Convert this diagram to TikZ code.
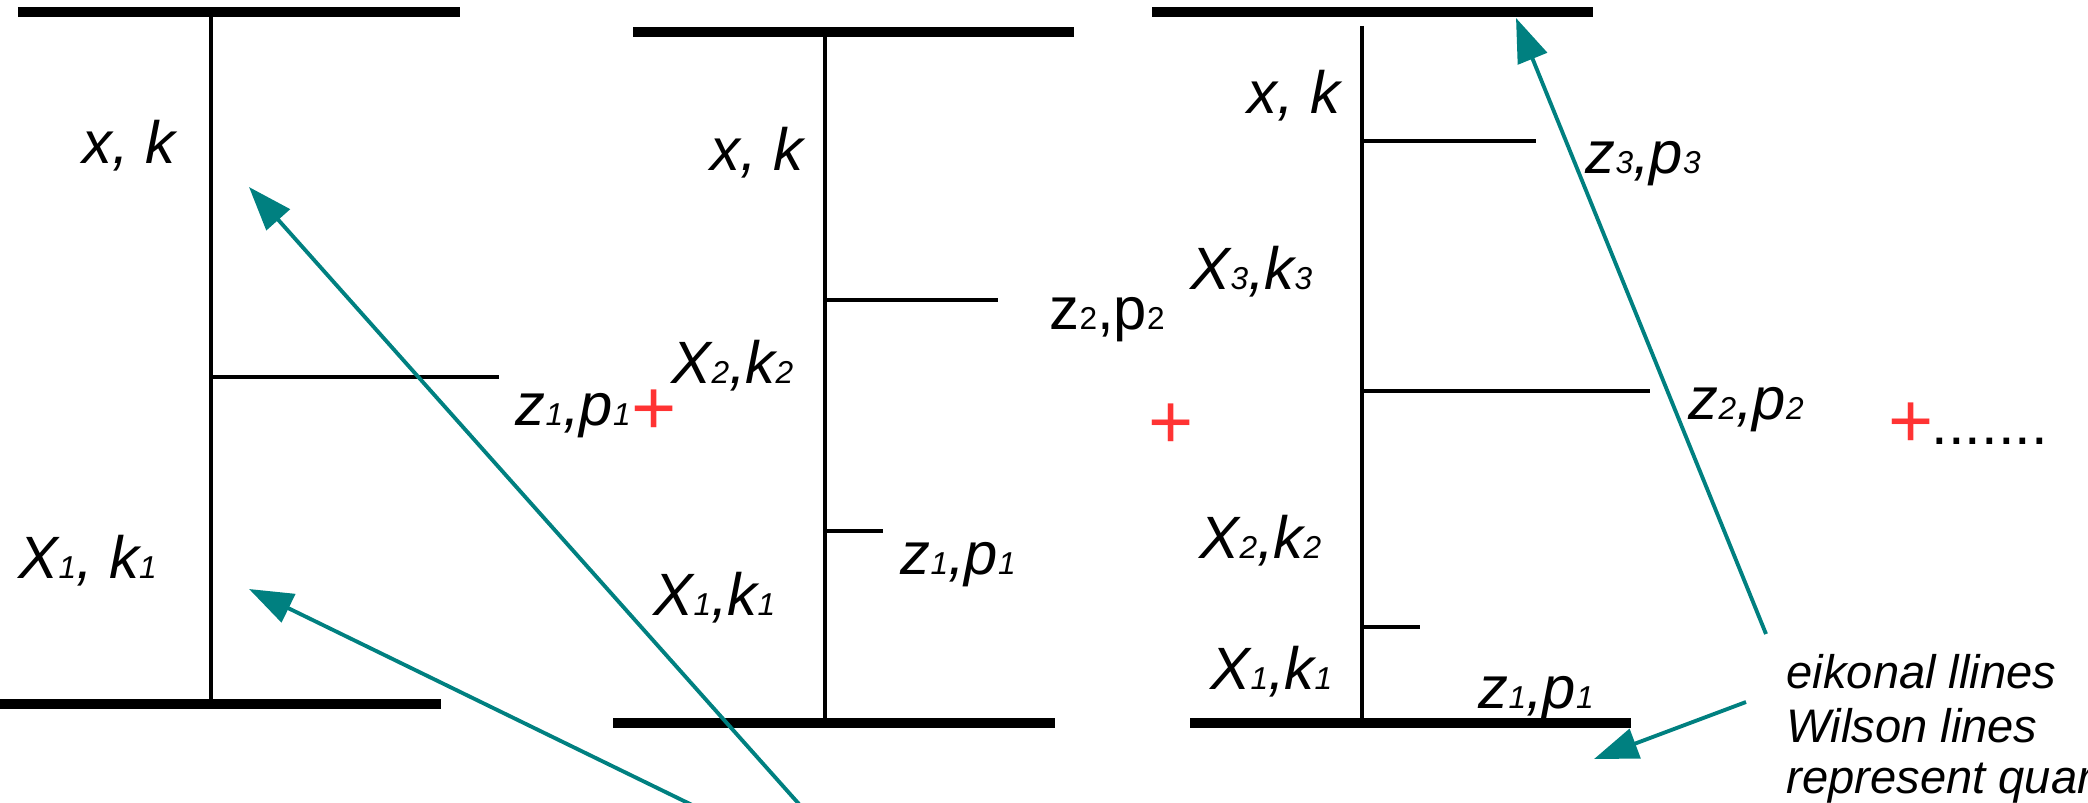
\documentclass[tikz,border=0pt]{standalone}
\usepackage{fontspec}
\setmainfont{Liberation Sans}
\usetikzlibrary{arrows.meta}
\definecolor{eikteal}{RGB}{0,128,128}
\definecolor{plusred}{RGB}{255,51,51}
\newcommand{\lo}[1]{{\fontsize{9}{10}\selectfont #1}}

\begin{document}
\begin{tikzpicture}[>={Triangle[length=4.4mm,width=3.1mm]},
    wall/.style={line width=3pt},
    rung/.style={line width=1.1pt},
    lbl/.style={anchor=base west,inner sep=0pt,font=\fontsize{17}{20}\selectfont\itshape},
    redplus/.style={inner sep=0pt,text=plusred,font=\fontsize{22}{24}\selectfont},
    eik/.style={->,eikteal,line width=1.1pt},
    note/.style={anchor=base west,inner sep=0pt,font=\fontsize{13.4}{15}\selectfont\itshape}]
    \useasboundingbox (0,0) rectangle (20.88,8.02);
    \clip (0,0) rectangle (20.88,8.02);
    % first ladder
    \draw[wall] (0.18,7.90)--(4.60,7.90);
    \draw[wall] (-0.05,0.98)--(4.41,0.98);
    \draw[rung] (2.11,7.90)--(2.11,0.98);
    \draw[rung] (2.11,4.25)--(4.99,4.25);
    \node[lbl] (xk1) at (0.82,6.38) {x, k};
    \node[lbl] (Xa1) at (0.18,2.24) {X\lo{1}, k\lo{1}};
    \node[lbl] (za1) at (5.15,3.77) {z\lo{1},p\lo{1}};
    \node[redplus] (plus1) at (6.54,3.90) {+};
    % second ladder
    \draw[wall] (6.33,7.70)--(10.74,7.70);
    \draw[wall] (6.13,0.79)--(10.55,0.79);
    \draw[rung] (8.25,7.70)--(8.25,0.79);
    \draw[rung] (8.25,5.02)--(9.98,5.02);
    \draw[rung] (8.25,2.71)--(8.83,2.71);
    \node[lbl] (xk2) at (7.10,6.31) {x, k};
    \node[lbl] (Xb2) at (6.71,4.19) {X\lo{2},k\lo{2}};
    \node[lbl] (Xb1) at (6.53,1.87) {X\lo{1},k\lo{1}};
    \node[lbl,font=\fontsize{17}{20}\selectfont] (zb2) at (10.49,4.73) {z\lo{2},p\lo{2}};
    \node[lbl] (zb1) at (9.00,2.28) {z\lo{1},p\lo{1}};
    \node[redplus] (plus2) at (11.71,3.76) {+};
    % third ladder
    \draw[wall] (11.52,7.90)--(15.93,7.90);
    \draw[wall] (11.90,0.79)--(16.31,0.79);
    \draw[rung] (13.62,7.76)--(13.62,0.79);
    \draw[rung] (13.62,6.61)--(15.36,6.61);
    \draw[rung] (13.62,4.11)--(16.50,4.11);
    \draw[rung] (13.62,1.75)--(14.20,1.75);
    \node[lbl] (xk3) at (12.47,6.88) {x, k};
    \node[lbl] (Xc3) at (11.90,5.13) {X\lo{3},k\lo{3}};
    \node[lbl] (Xc2) at (11.99,2.44) {X\lo{2},k\lo{2}};
    \node[lbl] (Xc1) at (12.10,1.13) {X\lo{1},k\lo{1}};
    \node[lbl] (zc3) at (15.85,6.28) {z\lo{3},p\lo{3}};
    \node[lbl] (zc2) at (16.88,3.83) {z\lo{2},p\lo{2}};
    \node[lbl] (zc1) at (14.78,0.94) {z\lo{1},p\lo{1}};
    \node[redplus] (plus3) at (19.11,3.77) {+};
    \node[lbl,font=\fontsize{17}{20}\selectfont] (dots) at (19.31,3.58) {.......};
    % eikonal lines note
    \node[note] (note1) at (17.86,1.14) {eikonal llines};
    \node[note] (note2) at (17.86,0.60) {Wilson lines};
    \node[note] (note3) at (17.86,0.09) {represent quar};
    \coordinate (tailA) at (8.15,-0.20);
    \coordinate (headA) at (2.49,6.15);
    \coordinate (tailB) at (7.27,-0.20);
    \coordinate (headB) at (2.49,2.13);
    \coordinate (tailC) at (17.66,1.68);
    \coordinate (headC) at (15.16,7.84);
    \coordinate (tailD) at (17.46,1.00);
    \coordinate (headD) at (15.94,0.43);
    \draw[eik] (tailA)--(headA);
    \draw[eik] (tailB)--(headB);
    \draw[eik] (tailC)--(headC);
    \draw[eik] (tailD)--(headD);
\end{tikzpicture}
\end{document}
